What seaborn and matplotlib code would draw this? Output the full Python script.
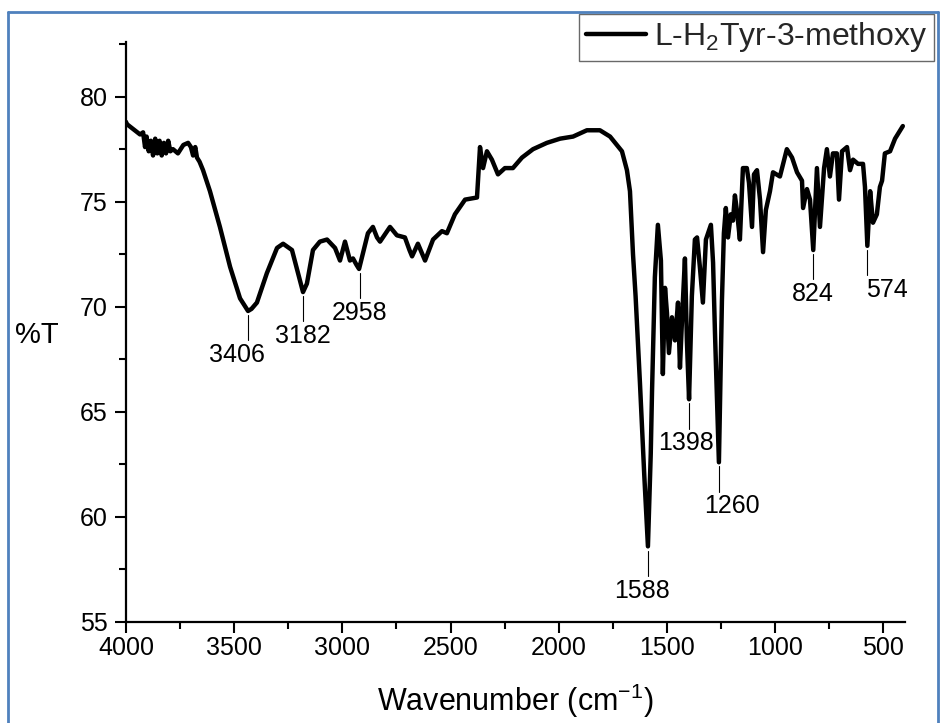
import numpy as np
import pandas as pd
import matplotlib
matplotlib.use("Agg")
import matplotlib.pyplot as plt
import seaborn as sns
from matplotlib.ticker import MultipleLocator
from matplotlib.lines import Line2D

# ---- data ----
wavenumber = [4000, 3997, 3960, 3935, 3921, 3912, 3905, 3895, 3885, 3875, 3865, 3855, 3845,
              3835, 3825, 3815, 3805, 3795, 3783, 3760, 3735, 3713, 3700, 3690, 3680, 3672,
              3660, 3644, 3612, 3566, 3519, 3473, 3436, 3420, 3395, 3349, 3302, 3274, 3233,
              3205, 3182, 3164, 3136, 3104, 3071, 3034, 3011, 2988, 2965, 2951, 2935, 2923,
              2882, 2859, 2840, 2826, 2780, 2748, 2711, 2690, 2678, 2651, 2618, 2581, 2540,
              2517, 2480, 2433, 2378, 2364, 2350, 2332, 2309, 2281, 2249, 2212, 2170, 2119,
              2055, 1994, 1934, 1870, 1810, 1763, 1708, 1685, 1671, 1657, 1645, 1625, 1605,
              1588, 1575, 1569, 1556, 1542, 1528, 1519, 1509, 1500, 1491, 1477, 1463, 1449,
              1440, 1430, 1417, 1408, 1398, 1385, 1371, 1361, 1348, 1334, 1320, 1297, 1287,
              1278, 1260, 1246, 1237, 1228, 1218, 1205, 1195, 1186, 1177, 1163, 1149, 1131,
              1121, 1107, 1098, 1084, 1070, 1056, 1043, 1024, 1010, 978, 946, 922, 899, 876,
              871, 853, 839, 824, 807, 793, 774, 761, 747, 733, 715, 705, 691, 668, 654, 640,
              617, 594, 585, 574, 561, 548, 530, 516, 506, 493, 469, 446, 410]
transmittance = [78.8, 78.7, 78.4, 78.2, 78.3, 77.6, 78.1, 77.4, 77.9, 77.2, 78.0, 77.3, 77.9,
                 77.2, 77.8, 77.3, 77.9, 77.4, 77.5, 77.3, 77.7, 77.8, 77.6, 77.2, 77.6, 77.1,
                 76.9, 76.5, 75.5, 73.8, 71.9, 70.4, 69.8, 69.9, 70.2, 71.6, 72.8, 73.0, 72.7,
                 71.6, 70.7, 71.1, 72.7, 73.1, 73.2, 72.8, 72.2, 73.1, 72.2, 72.3, 72.0, 71.8,
                 73.5, 73.8, 73.3, 73.1, 73.8, 73.4, 73.3, 72.7, 72.4, 73.0, 72.2, 73.2, 73.6,
                 73.5, 74.4, 75.1, 75.2, 77.6, 76.6, 77.4, 77.0, 76.3, 76.6, 76.6, 77.1, 77.5,
                 77.8, 78.0, 78.1, 78.4, 78.4, 78.1, 77.4, 76.5, 75.5, 72.5, 70.5, 66.4, 62.0,
                 58.6, 63.0, 66.0, 71.4, 73.9, 72.2, 66.8, 70.9, 69.7, 67.8, 69.5, 68.4, 70.2,
                 67.1, 69.5, 72.3, 68.4, 65.6, 70.5, 73.2, 73.3, 71.9, 70.2, 73.2, 73.9, 72.1,
                 68.7, 62.6, 70.3, 73.5, 74.7, 73.3, 74.4, 74.1, 75.3, 74.6, 73.2, 76.6, 76.6,
                 75.9, 73.8, 76.3, 76.5, 75.1, 72.6, 74.6, 75.5, 76.4, 76.2, 77.5, 77.1, 76.4, 76.0,
                 74.7, 75.6, 75.1, 72.7, 76.6, 73.8, 76.6, 77.5, 76.2, 77.3, 77.3, 75.1, 77.4, 77.6, 76.5, 77.0,
                 76.8, 76.8, 75.7, 72.9, 75.5, 74.0, 74.4, 75.7, 76.0, 77.3, 77.4, 78.0, 78.6]

peak_labels = ["3406", "3182", "2958", "1588", "1398", "1260", "824", "574"]
peak_wn = [3436, 3182, 2920, 1588, 1398, 1260, 824, 574]
peak_T = [69.8, 70.7, 71.8, 58.6, 65.6, 62.6, 72.7, 72.9]

series_name = "L-H$_2$Tyr-3-methoxy"
x_ticks = [4000, 3500, 3000, 2500, 2000, 1500, 1000, 500]
y_ticks = [55, 60, 65, 70, 75, 80]

# text horizontal offsets (pixels) for peak labels
label_dx = [-11, 0, 0, -6, -3, 13, 0, 20]

# ---- styling ----
sns.set_theme(style="ticks")
plt.rcParams["font.family"] = ["Liberation Sans", "DejaVu Sans"]
plt.rcParams["mathtext.fontset"] = "custom"
plt.rcParams["mathtext.rm"] = "Liberation Sans"
plt.rcParams["mathtext.it"] = "Liberation Sans:italic"
plt.rcParams["mathtext.bf"] = "Liberation Sans:bold"

fig = plt.figure(figsize=(9.41, 7.23), dpi=100)
fig.patch.set_facecolor("white")
ax = fig.add_axes([126 / 941, 1 - 622 / 723, (905 - 126) / 941, (622 - 42) / 723])

df = pd.DataFrame({"wn": wavenumber, "T": transmittance})
sns.lineplot(data=df, x="wn", y="T", sort=False, estimator=None, color="black",
             linewidth=3.2, ax=ax, legend=False)

ax.set_xlim(4000, 400)
ax.set_ylim(55, 82.6)
ax.set_xticks(x_ticks)
ax.set_yticks(y_ticks)
ax.xaxis.set_minor_locator(MultipleLocator(250))
ax.yaxis.set_minor_locator(MultipleLocator(2.5))
ax.tick_params(axis="both", which="major", length=8, width=1.5, labelsize=18, color="black",
               labelcolor="black", direction="out")
ax.tick_params(axis="x", which="major", pad=2)
ax.tick_params(axis="y", which="major", pad=5)
ax.tick_params(axis="both", which="minor", length=5, width=1.5, color="black", direction="out")
for s in ["top", "right"]:
    ax.spines[s].set_visible(False)
for s in ["left", "bottom"]:
    ax.spines[s].set_linewidth(1.6)
    ax.spines[s].set_color("black")

ax.set_xlabel("Wavenumber (cm$^{-1}$)", fontsize=22, color="black", labelpad=16)
ax.set_ylabel("%T", fontsize=21, rotation=0, color="black", labelpad=0)
ax.yaxis.set_label_coords(-0.115, 0.47)

# peak annotations
for lab, x, t, dx in zip(peak_labels, peak_wn, peak_T, label_dx):
    top = t - 0.2
    bot = top - 1.2
    ax.plot([x, x], [top, bot], color="black", linewidth=0.8)
    ax.annotate(lab, xy=(x, bot), xytext=(dx * 0.72, -2), textcoords="offset points",
                ha="center", va="top", fontsize=18, color="black")

# legend
handle = Line2D([0], [0], color="black", linewidth=3.2)
leg = ax.legend([handle], [series_name], loc="upper right",
                bbox_to_anchor=(934 / 941, 1 - 14 / 723), bbox_transform=fig.transFigure,
                frameon=True, fancybox=False, edgecolor="#444444", fontsize=23,
                handlelength=1.9, handletextpad=0.25, borderpad=0.2, borderaxespad=0)
leg.get_frame().set_linewidth(1.0)

# blue outer border
fig.add_artist(Line2D([8 / 941, 8 / 941], [0, 1 - 12 / 723], color="#4f81bd", linewidth=2,
                      transform=fig.transFigure))
fig.add_artist(Line2D([8 / 941, 938 / 941], [1 - 12 / 723, 1 - 12 / 723], color="#4f81bd",
                      linewidth=2, transform=fig.transFigure))
fig.add_artist(Line2D([938 / 941, 938 / 941], [0, 1 - 12 / 723], color="#4f81bd", linewidth=2,
                      transform=fig.transFigure))

fig.savefig("out.png", dpi=100, facecolor="white")
